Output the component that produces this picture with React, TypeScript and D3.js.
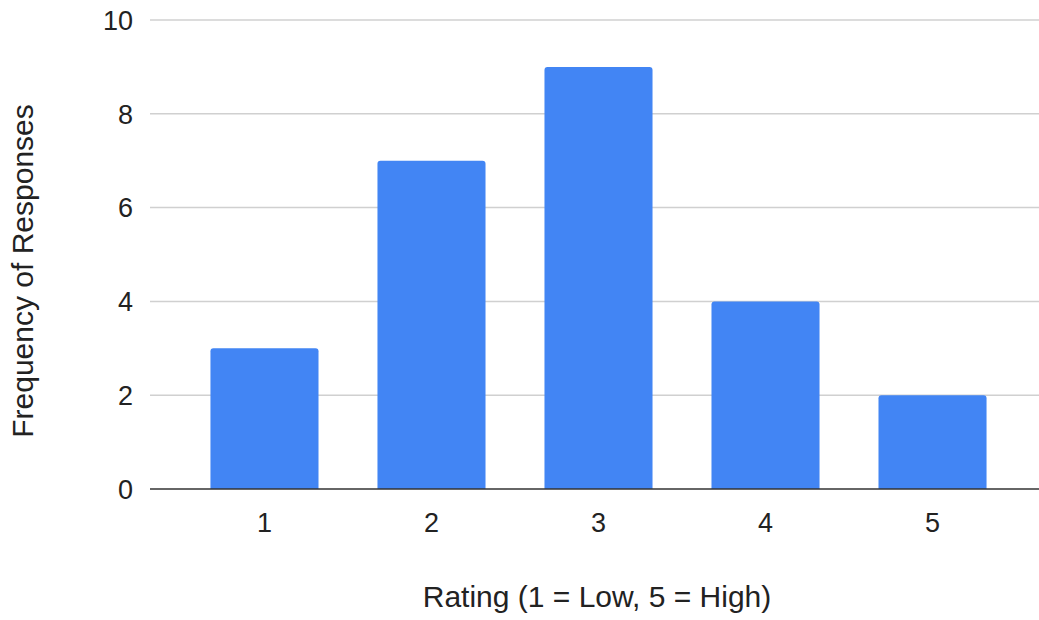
import React from "react";
import * as d3 from "d3";

const categories = ["1", "2", "3", "4", "5"];
const values = [3, 7, 9, 4, 2];
const yTicks = [0, 2, 4, 6, 8, 10];
const xTitle = "Rating (1 = Low, 5 = High)";
const yTitle = "Frequency of Responses";

const W = 1039;
const H = 620;
const FONT = "Liberation Sans, Arial, sans-serif";

export default function App() {
  const x = d3
    .scaleBand<string>()
    .domain(categories)
    .range([150, 1047])
    .paddingInner(0.353)
    .paddingOuter(0.362);
  const y = d3.scaleLinear().domain([0, 10]).range([489, 20]);
  const r = 3;

  const barPath = (cx: number, w: number, top: number, bottom: number) => {
    const l = cx;
    const rr = l + w;
    return `M${l},${bottom}V${top + r}Q${l},${top} ${l + r},${top}H${rr - r}Q${rr},${top} ${rr},${top + r}V${bottom}Z`;
  };

  return (
    <svg
      width={W}
      height={H}
      style={{ position: "absolute", left: 0, top: 0, background: "#fff" }}
      fontFamily={FONT}
    >
      {yTicks.map((t) => (
        <g key={t}>
          {t !== 0 && (
            <line x1={150} x2={1039} y1={y(t)} y2={y(t)} stroke="#d0d0d0" strokeWidth={1.5} />
          )}
          <text x={133} y={y(t)} dy="0.36em" textAnchor="end" fontSize={27} fill="#222">
            {t}
          </text>
        </g>
      ))}
      {categories.map((c, i) => (
        <path
          key={c}
          d={barPath(x(c)!, x.bandwidth(), y(values[i]), y(0))}
          fill="#4285F4"
        />
      ))}
      <line x1={150} x2={1039} y1={y(0)} y2={y(0)} stroke="#333" strokeWidth={1.5} />
      {categories.map((c) => (
        <text
          key={c}
          x={x(c)! + x.bandwidth() / 2}
          y={532}
          textAnchor="middle"
          fontSize={27}
          fill="#222"
        >
          {c}
        </text>
      ))}
      <text x={597} y={607} textAnchor="middle" fontSize={30} fill="#222">
        {xTitle}
      </text>
      <text
        transform={`translate(33,${271}) rotate(-90)`}
        textAnchor="middle"
        fontSize={30}
        fill="#222"
      >
        {yTitle}
      </text>
    </svg>
  );
}
